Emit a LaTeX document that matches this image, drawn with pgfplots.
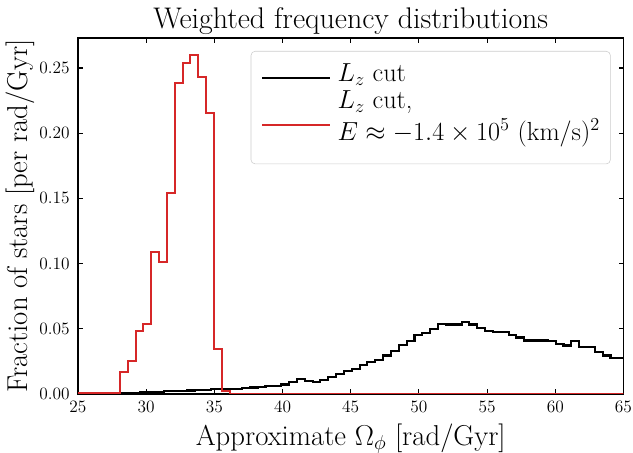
\RequirePackage{fix-cm}
\documentclass[border=0pt]{standalone}
\usepackage{pgfplots}
\pgfplotsset{compat=1.18}
\definecolor{tabred}{HTML}{D62728}
\pgfplotstableread{
x y
24.95 0.0008
25.525 0.0008
26.10 0.0008
26.675 0.0008
27.25 0.0009
27.825 0.0010
28.40 0.0010
28.975 0.0011
29.55 0.0012
30.125 0.0015
30.70 0.0016
31.275 0.0020
31.85 0.0021
32.425 0.0025
33.00 0.0027
33.575 0.0030
34.15 0.0032
34.725 0.0035
35.30 0.0037
35.875 0.0040
36.45 0.0041
37.025 0.0043
37.60 0.0050
38.175 0.0053
38.75 0.0058
39.325 0.0060
39.90 0.0073
40.475 0.0090
41.05 0.0117
41.625 0.0098
42.20 0.0090
42.775 0.0110
43.35 0.0130
43.925 0.0155
44.50 0.0173
45.075 0.0193
45.65 0.0219
46.225 0.0244
46.80 0.0262
47.375 0.0295
47.95 0.0328
48.525 0.0377
49.10 0.0405
49.675 0.0454
50.25 0.0466
50.825 0.0495
51.40 0.0540
51.975 0.0533
52.55 0.0533
53.125 0.0550
53.70 0.0533
54.275 0.0506
54.85 0.0485
55.425 0.0474
56.00 0.0472
56.575 0.0449
57.15 0.0433
57.725 0.0410
58.30 0.0410
58.875 0.0410
59.45 0.0408
60.025 0.0385
60.60 0.0372
61.175 0.0408
61.75 0.0360
62.325 0.0358
62.90 0.0320
63.475 0.0295
64.05 0.0278
64.625 0.0276
65.20 0.0276
}\blackhist
\pgfplotstableread{
x y
25.00 0.0005
28.07 0.0168
28.645 0.0253
29.22 0.0480
29.795 0.0537
30.37 0.1086
30.945 0.1014
31.52 0.1540
32.095 0.2386
32.67 0.2535
33.245 0.2600
33.82 0.2430
34.395 0.2155
34.97 0.0348
35.545 0.0020
36.12 0.0000
65.20 0.0000
}\redhist
\begin{document}
\begin{tikzpicture}
\path[use as bounding box] (-56.16pt,-42.48pt) rectangle (399.6pt,283.68pt);
\begin{axis}[
  scale only axis, width=392.76pt, height=256.32pt,
  at={(0pt,0pt)}, anchor=south west,
  xmin=25, xmax=65, ymin=0, ymax=0.273,
  xtick={25,30,...,65}, ytick={0,0.05,0.1,0.15,0.2,0.25},
  tick align=inside, xtick pos=both, ytick pos=both,
  xticklabel pos=lower, yticklabel pos=left,
  major tick length=3.5pt,
  yticklabel style={/pgf/number format/fixed, /pgf/number format/fixed zerofill, /pgf/number format/precision=2, xshift=-2.5pt},
  xticklabel style={yshift=-1.5pt},
  tick label style={font=\fontsize{12.5}{15}\selectfont},
  axis line style={line width=0.8pt},
  every tick/.style={black, line width=0.8pt},
  title={Weighted frequency distributions},
  title style={font=\fontsize{21.5}{25}\selectfont, at={(axis description cs:0.5,1.004)}, anchor=base},
  xlabel={Approximate $\Omega_\phi$ [rad/Gyr]},
  xlabel style={font=\fontsize{20.7}{25}\selectfont, at={(axis description cs:0.5,-0.1433)}, anchor=base},
  ylabel={Fraction of stars [per rad/Gyr]},
  ylabel style={font=\fontsize{20.7}{25}\selectfont, at={(axis description cs:-0.0917,0.5)}, anchor=base},
  legend style={at={(axis description cs:0.9765,0.9635)}, anchor=north east,
    draw=black!20, rounded corners=3pt, fill=white, fill opacity=0.8, text opacity=1,
    font=\fontsize{18.8}{22.5}\selectfont, cells={anchor=west, align=left},
    nodes={inner sep=0pt},
    inner xsep=7.5pt, inner ysep=9.2pt, row sep=5pt, column sep=4.4pt},
  legend image code/.code={\draw[#1] (0pt,0pt) -- (39pt,0pt); \path (39pt,0pt) -- (49pt,0pt);},
]
\addplot[const plot, black, line width=1.5pt, legend image post style={yshift=-2.56pt}] table[x=x,y=y] {\blackhist};
\addlegendentry{$L_z$ cut}
\addplot[const plot, tabred, line width=1.5pt, legend image post style={yshift=-3.0pt}] table[x=x,y=y] {\redhist};
\addlegendentry{$L_z$ cut,\\ $E \approx -1.4 \times 10^5$ (km/s)$^2$\\[-16pt]\mbox{}}
\end{axis}
\end{tikzpicture}
\end{document}
